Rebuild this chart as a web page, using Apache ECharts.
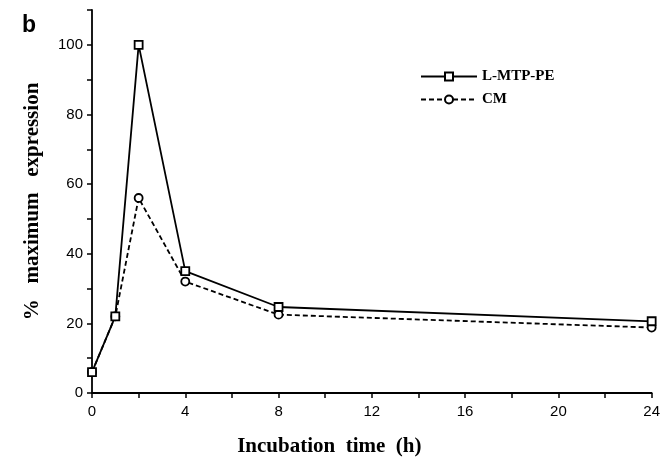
<!DOCTYPE html>
<html><head><meta charset="utf-8">
<script src="https://cdn.jsdelivr.net/npm/echarts@6/dist/echarts.min.js"></script>
<style>html,body{margin:0;padding:0;background:#fff}#c{width:663px;height:462px}</style>
</head><body><div id="c"></div>
<script>
var hours = [0, 1, 2, 4, 8, 24];
var lmtppe = [6, 22, 100, 35, 24.7, 20.6];
var cm = [6, 22, 56, 32, 22.5, 18.8];
var seriesNames = ['L-MTP-PE', 'CM'];

function pairs(xs, ys){ return xs.map(function(x,i){ return [x, ys[i]]; }); }

var chart = echarts.init(document.getElementById('c'));
chart.setOption({
  animation: false,
  backgroundColor: '#fff',
  grid: {left: 92, right: 8, top: 10, bottom: 68, containLabel: false},
  graphic: [{type:'text', left: 22, top: 14, style:{text:'b', font:'bold 23px Liberation Sans', fill:'#000'}}],
  legend: {
    left: 415, top: 64, orient: 'vertical', itemGap: 8, itemWidth: 56, itemHeight: 10,
    textStyle: {fontFamily: 'Liberation Serif', fontWeight: 'bold', fontSize: 15, color: '#000'},
    data: seriesNames
  },
  xAxis: {
    type: 'value', min: 0, max: 24, interval: 2,
    name: 'Incubation  time  (h)', nameLocation: 'middle', nameGap: 43,
    nameTextStyle: {fontFamily: 'Liberation Serif', fontWeight: 'bold', fontSize: 21, color: '#000', padding: [0, 85, 0, 0]},
    axisLine: {lineStyle: {color: '#000', width: 1.8}},
    axisTick: {length: 5, lineStyle: {color: '#000', width: 1.5}},
    axisLabel: {color: '#000', fontFamily: 'Liberation Sans', fontSize: 15, margin: 11,
      formatter: function(v){ return v % 4 === 0 ? String(v) : ''; }},
    splitLine: {show: false}
  },
  yAxis: {
    type: 'value', min: 0, max: 110, interval: 10,
    name: '%   maximum   expression', nameLocation: 'middle', nameGap: 49, nameRotate: 90,
    nameTextStyle: {fontFamily: 'Liberation Serif', fontWeight: 'bold', fontSize: 21, color: '#000'},
    axisLine: {lineStyle: {color: '#000', width: 1.8}},
    axisTick: {length: 5, lineStyle: {color: '#000', width: 1.5}},
    axisLabel: {color: '#000', fontFamily: 'Liberation Sans', fontSize: 15, margin: 9,
      formatter: function(v){ return (v % 20 === 0 && v <= 100) ? String(v) : ''; }},
    splitLine: {show: false}
  },
  series: [
    {name: seriesNames[0], type: 'line', data: pairs(hours, lmtppe), symbol: 'rect', symbolSize: 8,
     lineStyle: {color: '#000', width: 1.8}, itemStyle: {color: '#fff', borderColor: '#000', borderWidth: 1.8}, z: 3},
    {name: seriesNames[1], type: 'line', data: pairs(hours, cm), symbol: 'circle', symbolSize: 8,
     lineStyle: {color: '#000', width: 1.8, type: [5, 3]}, itemStyle: {color: '#fff', borderColor: '#000', borderWidth: 1.8}, z: 2}
  ]
});
</script></body></html>
